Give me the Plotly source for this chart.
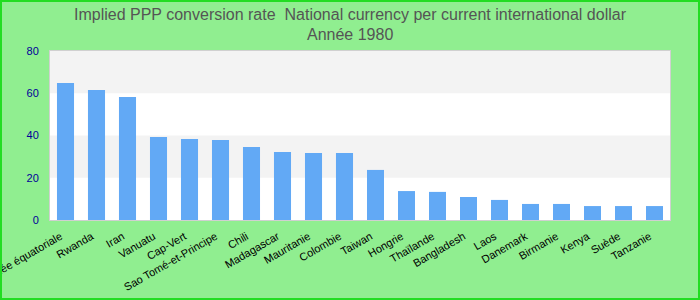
import plotly.graph_objects as go

countries = ["Guinée équatoriale", "Rwanda", "Iran", "Vanuatu", "Cap-Vert",
             "Sao Tomé-et-Principe", "Chili", "Madagascar", "Mauritanie", "Colombie",
             "Taiwan", "Hongrie", "Thaïlande", "Bangladesh", "Laos", "Danemark",
             "Birmanie", "Kenya", "Suède", "Tanzanie"]
values = [64.9, 61.5, 58.2, 39.3, 38.3, 37.9, 34.6, 32.2, 31.7, 31.7,
          23.7, 13.7, 13.3, 10.9, 9.5, 7.6, 7.6, 6.6, 6.6, 6.6]
y_ticks = [0, 20, 40, 60, 80]
bands = [(20, 40), (60, 80)]
title_lines = ["Implied PPP conversion rate \u00a0National currency per current international dollar",
               "Année 1980"]

fig = go.Figure(go.Bar(x=countries, y=values, marker_color="#62a9f5",
                       marker_line_width=0, width=0.55))

shapes = []
for lo, hi in bands:
    shapes.append(dict(type="rect", xref="paper", yref="y", x0=0, x1=1, y0=lo, y1=hi,
                       fillcolor="#f3f3f3", line_width=0, layer="below"))
# figure border
W, H, L, R, T, B = 700, 300, 50, 30, 51, 80
pw, ph = W - L - R, H - T - B
shapes.append(dict(type="rect", xref="paper", yref="paper",
                   x0=(-L + 1) / pw, x1=(W - L - 1) / pw,
                   y0=(-B + 1) / ph, y1=(H - B - 1) / ph,
                   line=dict(color="#22dd22", width=2), fillcolor="rgba(0,0,0,0)", layer="above"))

annotations = []
for txt, ypix in zip(title_lines, [14, 35]):
    annotations.append(dict(text=txt, xref="paper", yref="paper",
                            x=(W / 2 - L) / pw, y=(H - B - ypix) / ph,
                            xanchor="center", yanchor="middle", showarrow=False,
                            font=dict(size=16, color="#555555")))

fig.update_layout(
    width=W, height=H,
    margin=dict(l=L, r=R, t=T, b=B, autoexpand=False),
    paper_bgcolor="#90ee90", plot_bgcolor="white",
    font=dict(family="Liberation Sans, Arial, sans-serif"),
    shapes=shapes,
    annotations=annotations,
    showlegend=False,
)
fig.update_xaxes(tickangle=-30, tickfont=dict(size=11, color="black"), automargin=False,
                 ticklabelstandoff=5, ticklabelshift=-5,
                 showline=True, mirror=True, linecolor="#d0d0d0", linewidth=1,
                 ticks="", showgrid=False)
fig.update_yaxes(range=[0, 80], tickvals=y_ticks, tickfont=dict(size=11, color="#000099"),
                 automargin=False, ticklabelstandoff=8,
                 showline=True, mirror=True, linecolor="#d0d0d0", linewidth=1,
                 showgrid=False, zeroline=False, ticks="")

fig.write_html("out.html")
